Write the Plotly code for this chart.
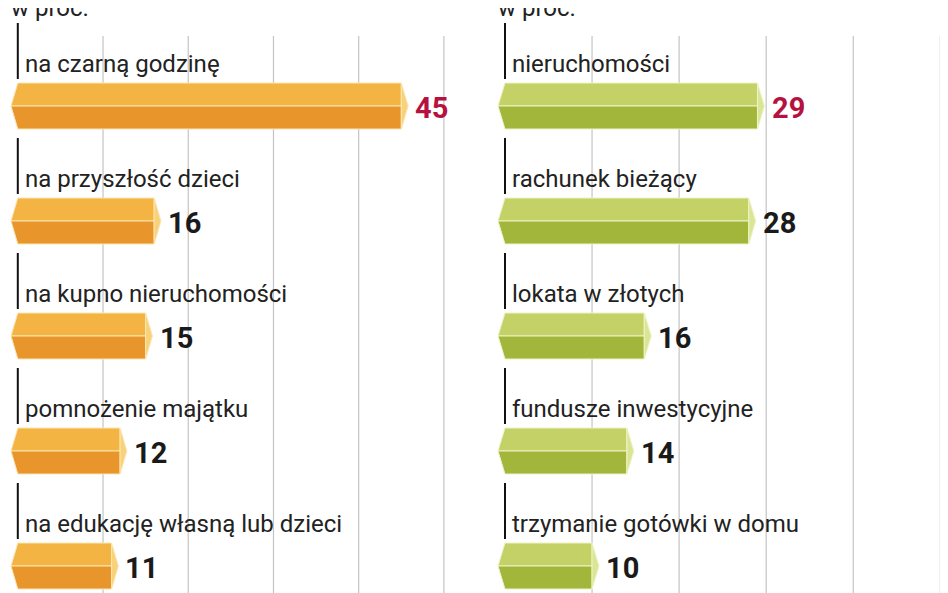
import plotly.graph_objects as go

left_cats = ["na czarną godzinę", "na przyszłość dzieci", "na kupno nieruchomości",
             "pomnożenie majątku", "na edukację własną lub dzieci"]
left_vals = [45, 16, 15, 12, 11]
right_cats = ["nieruchomości", "rachunek bieżący", "lokata w złotych",
              "fundusze inwestycyjne", "trzymanie gotówki w domu"]
right_vals = [29, 28, 16, 14, 10]
grid_ticks = [10, 20, 30, 40, 50]
unit_label = "w proc."
source = "Źródło: Bank Handlowy"

fig = go.Figure()
ROW0, STEP, H, A = 98, 115, 23, 0.8

def add_panel(cats, vals, xa, cols, edge):
    top, bot, cap = cols
    for i, (c, v) in enumerate(zip(cats, vals)):
        yc = ROW0 + STEP * i
        polys = [
            ([-A, 0, v, v, -A], [yc, yc - H, yc - H, yc, yc], top),
            ([-A, v, v, 0, -A], [yc, yc, yc + H, yc + H, yc], bot),
            ([v, v + A, v, v], [yc - H, yc, yc + H, yc - H], cap),
        ]
        for px, py, col in polys:
            fig.add_trace(go.Scatter(x=px, y=py, fill="toself", fillcolor=col, mode="lines",
                                     line=dict(color=edge, width=1),
                                     xaxis=xa, yaxis="y", showlegend=False, hoverinfo="skip"))
        fig.add_annotation(x=0.6, y=yc - 42, text=c, xref=xa, yref="y", showarrow=False,
                           xanchor="left", yanchor="middle",
                           font=dict(family="Roboto", size=24, color="#222"))
        fig.add_annotation(x=v + A + 0.6, y=yc + 2, text="<b>%d</b>" % v, xref=xa, yref="y",
                           showarrow=False, xanchor="left", yanchor="middle",
                           font=dict(family="Roboto", size=29,
                                     color="#b5123f" if i == 0 else "#1a1a1a"))
        fig.add_shape(type="line", x0=0, x1=0, y0=yc - H - 60, y1=yc - H - 4, xref=xa, yref="y",
                      line=dict(color="#111", width=2), layer="below")
    for g in grid_ticks:
        fig.add_shape(type="line", x0=g, x1=g, y0=28, y1=593, xref=xa, yref="y",
                      line=dict(color="#c4c4c4", width=1.2), layer="below")

add_panel(left_cats, left_vals, "x", ("#f4b443", "#e8952b", "#f8d27a"), "#fbe6b0")
add_panel(right_cats, right_vals, "x2", ("#c3d166", "#a2b63b", "#dbe596"), "#eef3c4")

for xa in ("x", "x2"):
    fig.add_annotation(x=-1, y=0, text=unit_label, xref=xa, yref="y", showarrow=False,
                       xanchor="left", yanchor="middle",
                       font=dict(family="Roboto", size=24, color="#222"))
for px in (425, 915):
    fig.add_annotation(x=px / 948, y=596, xref="paper", yref="y", text=source, textangle=-90,
                       showarrow=False, xanchor="center", yanchor="bottom",
                       font=dict(family="Roboto", size=17, color="#777"))

fig.update_layout(
    width=948, height=593, margin=dict(l=0, r=0, t=0, b=0),
    plot_bgcolor="white", paper_bgcolor="white",
    xaxis=dict(domain=[0, 470 / 948], range=[-1.15, 54.0], visible=False),
    xaxis2=dict(domain=[478 / 948, 1], range=[-2.18, 51.8], visible=False),
    yaxis=dict(range=[593, 0], visible=False),
)
fig.write_html("out.html")
